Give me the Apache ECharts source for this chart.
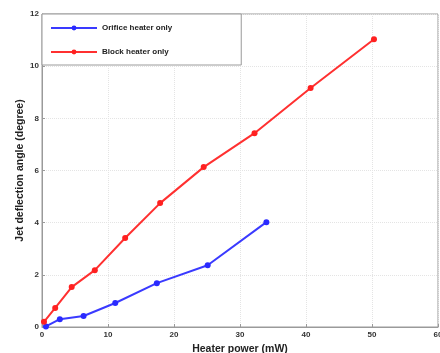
<!DOCTYPE html>
<html>
<head>
<meta charset="utf-8">
<script src="https://cdn.jsdelivr.net/npm/echarts@6/dist/echarts.min.js"></script>
<style>
  html, body { margin: 0; padding: 0; background: #fff; }
  #main { width: 440px; height: 353px; }
</style>
</head>
<body>
<div id="main"></div>
<script>
// 数据（从图上读出来的）
var orificePower = [0.6, 2.7, 6.3, 11.1, 17.4, 25.1, 34.0];
var orificeAngle = [0.02, 0.3, 0.42, 0.92, 1.68, 2.37, 4.02];
var blockPower = [0.3, 2.0, 4.5, 8.0, 12.6, 17.9, 24.5, 32.2, 40.7, 50.3];
var blockAngle = [0.2, 0.73, 1.53, 2.18, 3.41, 4.75, 6.13, 7.43, 9.16, 11.03];
var seriesNames = ['Orifice heater only', 'Block heater only'];

function pairs(xs, ys) {
    var out = [];
    for (var i = 0; i < xs.length; i++) out.push([xs[i], ys[i]]);
    return out;
}

var dom = document.getElementById("main");
var myChart = echarts.init(dom);
var FONT = 'Liberation Sans';

var option = {
    animation: false,
    grid: {
        left: 42, right: 2, top: 14, bottom: 26,
        outerBoundsMode: 'none', containLabel: false,
        show: true, borderColor: '#9a9a9a', borderWidth: 1
    },
    legend: {
        orient: 'vertical',
        left: 42, top: 14,
        padding: [10, 69, 9, 8],
        itemGap: 16,
        itemWidth: 46, itemHeight: 6,
        borderColor: '#9a9a9a', borderWidth: 1,
        backgroundColor: '#fff',
        textStyle: { fontFamily: FONT, fontSize: 8, fontWeight: 'bold', color: '#222' },
        data: seriesNames
    },
    xAxis: {
        type: 'value', min: 0, max: 60, interval: 10,
        name: 'Heater power (mW)', nameLocation: 'middle', nameGap: 16,
        nameTextStyle: { fontFamily: FONT, fontSize: 10.5, fontWeight: 'bold', color: '#222' },
        axisLine: { lineStyle: { color: '#9a9a9a' } },
        axisTick: { inside: true, length: 3, lineStyle: { color: '#9a9a9a' } },
        axisLabel: { fontFamily: FONT, fontSize: 8, fontWeight: 'bold', color: '#333', margin: 4 },
        splitLine: { show: true, lineStyle: { color: '#e4e4e4', type: 'dotted' } }
    },
    yAxis: {
        type: 'value', min: 0, max: 12, interval: 2,
        name: 'Jet deflection angle (degree)', nameLocation: 'middle', nameGap: 16,
        nameMoveOverlap: false,
        nameTextStyle: { fontFamily: FONT, fontSize: 10.5, fontWeight: 'bold', color: '#222' },
        axisLine: { lineStyle: { color: '#9a9a9a' } },
        axisTick: { inside: true, length: 3, lineStyle: { color: '#9a9a9a' } },
        axisLabel: { fontFamily: FONT, fontSize: 8, fontWeight: 'bold', color: '#333', margin: 3 },
        splitLine: { show: true, lineStyle: { color: '#e4e4e4', type: 'dotted' } }
    },
    series: [
        {
            name: seriesNames[0], type: 'line',
            data: pairs(orificePower, orificeAngle),
            symbol: 'circle', symbolSize: 6,
            itemStyle: { color: '#2a2aff' },
            lineStyle: { color: '#3a3aff', width: 2 }
        },
        {
            name: seriesNames[1], type: 'line',
            data: pairs(blockPower, blockAngle),
            symbol: 'circle', symbolSize: 6,
            itemStyle: { color: '#ff2020' },
            lineStyle: { color: '#ff3030', width: 2 }
        }
    ]
};

myChart.setOption(option);
</script>
</body>
</html>
